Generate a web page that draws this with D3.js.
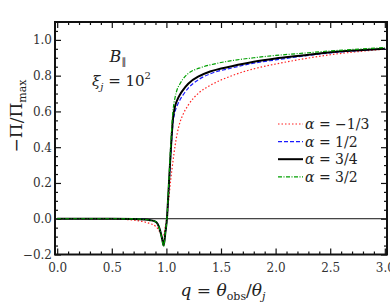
<!DOCTYPE html>
<html>
<head>
<meta charset="utf-8">
<script src="https://cdn.jsdelivr.net/npm/d3@7"></script>
<style>
  body { margin: 0; background: #fff; }
  svg { display: block; }
</style>
</head>
<body>
<div id="chart"></div>
<script>
// values
var qVals   = [0, 0.5, 0.7, 0.8, 0.85, 0.9, 0.94, 0.96, 0.975, 0.99, 1.005, 1.02, 1.04, 1.06, 1.08, 1.1, 1.125, 1.15, 1.2, 1.3, 1.4, 1.6, 1.8, 2.0, 2.2, 2.5, 2.8, 3.0];
var redVals   = [0, -0.001, -0.008, -0.018, -0.027, -0.042, -0.075, -0.105, -0.095, -0.045, 0.01, 0.1, 0.22, 0.32, 0.41, 0.48, 0.54, 0.58, 0.635, 0.705, 0.745, 0.8, 0.838, 0.865, 0.888, 0.917, 0.937, 0.948];
var blueVals  = [0, 0, -0.001, -0.004, -0.008, -0.016, -0.06, -0.11, -0.148, -0.08, 0.0, 0.15, 0.36, 0.53, 0.6, 0.635, 0.665, 0.69, 0.73, 0.78, 0.81, 0.843, 0.87, 0.888, 0.905, 0.927, 0.942, 0.95];
var blackVals = [0, 0, -0.001, -0.004, -0.008, -0.016, -0.06, -0.11, -0.15, -0.08, 0.0, 0.16, 0.38, 0.56, 0.63, 0.665, 0.695, 0.718, 0.755, 0.797, 0.823, 0.853, 0.878, 0.896, 0.91, 0.931, 0.944, 0.951];
var greenVals = [0, 0, -0.001, -0.004, -0.008, -0.016, -0.062, -0.115, -0.155, -0.08, 0.0, 0.18, 0.42, 0.6, 0.68, 0.725, 0.755, 0.78, 0.812, 0.842, 0.86, 0.884, 0.9, 0.913, 0.923, 0.938, 0.95, 0.957];
var seriesNames = ["\u22121/3", "1/2", "3/4", "3/2"];
var xTicks = [0, 0.5, 1.0, 1.5, 2.0, 2.5, 3.0];
var yTicks = [-0.2, 0.0, 0.2, 0.4, 0.6, 0.8, 1.0];

var W = 390, H = 305;
var mLeft = 55, mRight = 387, mTop = 22, mBottom = 254.5;
var FONT = "'DejaVu Serif', serif";

var svg = d3.select("#chart").append("svg")
    .attr("width", W).attr("height", H)
    .attr("font-family", FONT);

var x = d3.scaleLinear().domain([-0.02, 3.02]).range([mLeft, mRight]);
var y = d3.scaleLinear().domain([-0.2, 1.1]).range([mBottom, mTop]);

// minor tick positions
var xMinor = d3.range(0, 3.001, 0.1).filter(function(d) { return Math.abs(d * 2 - Math.round(d * 2)) > 1e-6; });
var yMinor = d3.range(-0.15, 1.1, 0.05).filter(function(d) { return Math.abs(d * 5 - Math.round(d * 5)) > 1e-6; });

function styleAxis(g) {
  g.attr("font-family", FONT);
  g.select(".domain").remove();
  g.selectAll(".tick line").attr("stroke", "#111").attr("stroke-width", 1.2);
  g.selectAll(".tick text").attr("font-size", 12).attr("fill", "#333");
}

// bottom
svg.append("g").attr("transform", "translate(0," + mBottom + ")")
  .call(d3.axisBottom(x).tickValues(xTicks).tickSize(-6).tickPadding(9).tickFormat(d3.format(".1f")))
  .call(styleAxis);
svg.append("g").attr("transform", "translate(0," + mBottom + ")")
  .call(d3.axisBottom(x).tickValues(xMinor).tickSize(-3).tickFormat(""))
  .call(styleAxis);
// top
svg.append("g").attr("transform", "translate(0," + mTop + ")")
  .call(d3.axisTop(x).tickValues(xTicks).tickSize(-6).tickFormat(""))
  .call(styleAxis);
svg.append("g").attr("transform", "translate(0," + mTop + ")")
  .call(d3.axisTop(x).tickValues(xMinor).tickSize(-3).tickFormat(""))
  .call(styleAxis);
// left
svg.append("g").attr("transform", "translate(" + mLeft + ",0)")
  .call(d3.axisLeft(y).tickValues(yTicks).tickSize(-6).tickPadding(3)
    .tickFormat(function(d) { return d3.format(".1f")(d).replace("-", "\u2212"); }))
  .call(styleAxis);
svg.append("g").attr("transform", "translate(" + mLeft + ",0)")
  .call(d3.axisLeft(y).tickValues(yMinor).tickSize(-3).tickFormat(""))
  .call(styleAxis);
// right
svg.append("g").attr("transform", "translate(" + mRight + ",0)")
  .call(d3.axisRight(y).tickValues(yTicks).tickSize(-6).tickFormat(""))
  .call(styleAxis);
svg.append("g").attr("transform", "translate(" + mRight + ",0)")
  .call(d3.axisRight(y).tickValues(yMinor).tickSize(-3).tickFormat(""))
  .call(styleAxis);

// zero line
svg.append("line")
  .attr("x1", mLeft).attr("x2", mRight)
  .attr("y1", y(0)).attr("y2", y(0))
  .attr("stroke", "#111").attr("stroke-width", 1);

var series = [
  { vals: redVals,   color: "#ff2020", width: 1.2, dash: "1.5,2" },
  { vals: blueVals,  color: "#1a1aff", width: 1.2, dash: "4,2" },
  { vals: blackVals, color: "#000000", width: 2,   dash: null },
  { vals: greenVals, color: "#00a000", width: 1.2, dash: "4,1.5,1,1.5" }
];

var line = d3.line()
  .x(function(d) { return x(d[0]); })
  .y(function(d) { return y(d[1]); })
  .curve(d3.curveMonotoneX);

svg.append("g").selectAll("path")
  .data(series)
  .enter().append("path")
    .attr("d", function(s) { return line(qVals.map(function(q, i) { return [q, s.vals[i]]; })); })
    .attr("fill", "none")
    .attr("stroke", function(s) { return s.color; })
    .attr("stroke-width", function(s) { return s.width; })
    .attr("stroke-dasharray", function(s) { return s.dash; });

// frame
svg.append("rect")
  .attr("x", mLeft).attr("y", mTop)
  .attr("width", mRight - mLeft).attr("height", mBottom - mTop)
  .attr("fill", "none").attr("stroke", "#111").attr("stroke-width", 2);

// legend
var leg = svg.append("g").selectAll("g")
  .data(series)
  .enter().append("g")
    .attr("transform", function(s, i) { return "translate(278," + (124 + i * 17.6) + ")"; });
leg.append("line")
  .attr("x1", 0).attr("x2", 25)
  .attr("stroke", function(s) { return s.color; })
  .attr("stroke-width", function(s) { return s.width; })
  .attr("stroke-dasharray", function(s) { return s.dash; });
var lt = leg.append("text").attr("x", 27).attr("y", 5).attr("font-size", 14).attr("fill", "#222");
lt.append("tspan").attr("font-style", "italic").text("\u03b1");
lt.append("tspan").text(function(s, i) { return " = " + seriesNames[i]; });

// annotation
var b = svg.append("text").attr("x", 118).attr("y", 62).attr("text-anchor", "middle").attr("font-size", 16).attr("fill", "#222");
b.append("tspan").attr("font-style", "italic").text("B");
b.append("tspan").attr("dy", 3).attr("font-size", 10).attr("font-family", "'DejaVu Sans', sans-serif").text("\u2225");

var xi = svg.append("text").attr("x", 92).attr("y", 86).attr("font-size", 15).attr("fill", "#222");
xi.append("tspan").attr("font-style", "italic").text("\u03be");
xi.append("tspan").attr("dy", 4).attr("font-size", 10).attr("font-style", "italic").text("j");
xi.append("tspan").attr("dy", -4).text(" = 10");
xi.append("tspan").attr("dy", -7).attr("font-size", 10).text("2");

// axis labels
var xl = svg.append("text").attr("x", 223).attr("y", 296).attr("text-anchor", "middle").attr("font-size", 17).attr("fill", "#222");
xl.append("tspan").attr("font-style", "italic").text("q");
xl.append("tspan").text(" = ");
xl.append("tspan").attr("font-style", "italic").text("\u03b8");
xl.append("tspan").attr("dy", 4).attr("font-size", 11).text("obs");
xl.append("tspan").attr("dy", -4).text("/");
xl.append("tspan").attr("font-style", "italic").text("\u03b8");
xl.append("tspan").attr("dy", 4).attr("font-size", 11).attr("font-style", "italic").text("j");

var yl = svg.append("text")
  .attr("transform", "translate(22,116) rotate(-90)")
  .attr("text-anchor", "middle").attr("font-size", 17).attr("fill", "#222");
yl.append("tspan").text("\u2212\u03a0/\u03a0");
yl.append("tspan").attr("dy", 4).attr("font-size", 11).text("max");
</script>
</body>
</html>
